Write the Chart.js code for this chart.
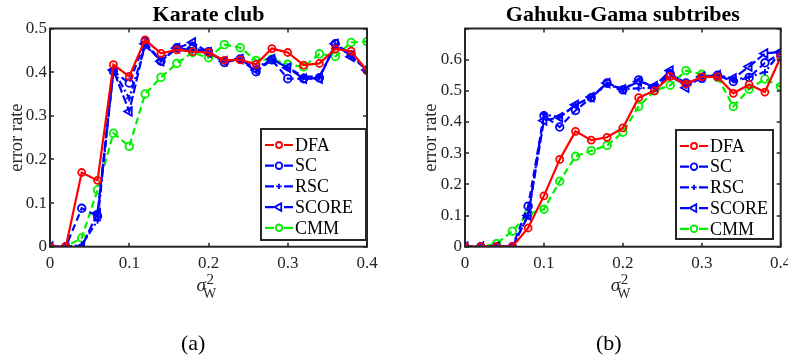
<!DOCTYPE html>
<html>
<head>
<meta charset="utf-8">
<script src="https://cdn.jsdelivr.net/npm/chart.js@4.4.1/dist/chart.umd.min.js"></script>
<style>
  html, body { margin: 0; padding: 0; background: #fff; overflow: hidden; width: 788px; height: 358px; }
  .panel { position: absolute; top: 0; height: 358px; }
  .caption { position: absolute; top: 330px; font: 22px "Liberation Serif", serif; color: #000; }
</style>
</head>
<body>
<div class="panel" id="panelA" style="left:0px; width:394px;"><canvas id="chartA"></canvas></div>
<div class="panel" id="panelB" style="left:394px; width:412px;"><canvas id="chartB"></canvas></div>
<div class="caption" style="left:181px;">(a)</div>
<div class="caption" style="left:596px;">(b)</div>
<script>
// noise variance sigma_W^2
const sigmaW = [0, 0.02, 0.04, 0.06, 0.08, 0.10, 0.12, 0.14, 0.16, 0.18, 0.20,
                0.22, 0.24, 0.26, 0.28, 0.30, 0.32, 0.34, 0.36, 0.38, 0.40];

// Karate club error rates
const karateDFA   = [0, 0, 0.17, 0.152, 0.417, 0.39, 0.474, 0.443, 0.451, 0.447, 0.445,
                     0.427, 0.428, 0.418, 0.454, 0.445, 0.416, 0.42, 0.453, 0.448, 0.403];
const karateSC    = [0, 0, 0.088, 0.07, 0.402, 0.375, 0.47, 0.425, 0.456, 0.455, 0.447,
                     0.422, 0.43, 0.401, 0.428, 0.385, 0.385, 0.387, 0.465, 0.44, 0.405];
const karateRSC   = [0, 0, 0.004, 0.06, 0.405, 0.34, 0.46, 0.43, 0.455, 0.45, 0.445,
                     0.425, 0.43, 0.41, 0.43, 0.41, 0.39, 0.39, 0.46, 0.44, 0.405];
const karateSCORE = [0, 0, 0.0, 0.077, 0.405, 0.31, 0.465, 0.425, 0.455, 0.468, 0.445,
                     0.425, 0.43, 0.405, 0.43, 0.41, 0.385, 0.385, 0.465, 0.435, 0.405];
const karateCMM   = [0, 0, 0.02, 0.13, 0.26, 0.23, 0.35, 0.388, 0.42, 0.445, 0.433,
                     0.463, 0.456, 0.427, 0.43, 0.418, 0.412, 0.442, 0.436, 0.468, 0.47];

// Gahuku-Gama subtribes error rates
const gahukuDFA   = [0, 0, 0, 0, 0.06, 0.163, 0.28, 0.37, 0.342, 0.351, 0.381,
                     0.478, 0.5, 0.546, 0.522, 0.545, 0.545, 0.492, 0.52, 0.496, 0.609];
const gahukuSC    = [0, 0, 0, 0, 0.13, 0.42, 0.384, 0.437, 0.478, 0.525, 0.503,
                     0.535, 0.51, 0.555, 0.525, 0.54, 0.55, 0.53, 0.543, 0.59, 0.62];
const gahukuRSC   = [0, 0, 0, 0, 0.1, 0.425, 0.415, 0.455, 0.48, 0.52, 0.505,
                     0.508, 0.51, 0.545, 0.52, 0.545, 0.545, 0.535, 0.545, 0.56, 0.625];
const gahukuSCORE = [0, 0, 0, 0, 0.1, 0.405, 0.415, 0.455, 0.48, 0.525, 0.505,
                     0.53, 0.515, 0.565, 0.51, 0.545, 0.55, 0.54, 0.578, 0.62, 0.625];
const gahukuCMM   = [0, 0, 0.01, 0.05, 0.105, 0.12, 0.21, 0.29, 0.308, 0.325, 0.367,
                     0.45, 0.5, 0.518, 0.565, 0.553, 0.543, 0.45, 0.505, 0.538, 0.513];

const methodNames = ["DFA", "SC", "RSC", "SCORE", "CMM"];

const RED = "#ff0000", BLUE = "#0000ff", GREEN = "#00f000";
const AXIS = "#262626";
const SERIF = '"Liberation Serif", "Times New Roman", serif';

function styleFor(name) {
    switch (name) {
        case "DFA":   return { borderColor: RED, borderDash: [], pointStyle: "circle", pointRadius: 3.5 };
        case "SC":    return { borderColor: BLUE, borderDash: [7, 4], pointStyle: "circle", pointRadius: 3.8 };
        case "RSC":   return { borderColor: BLUE, borderDash: [7, 3, 2, 3], pointStyle: "cross", pointRadius: 3.2 };
        case "SCORE": return { borderColor: BLUE, borderDash: [9, 3], pointStyle: "triangle", pointRadius: 5, pointRotation: -90 };
        default:      return { borderColor: GREEN, borderDash: [7, 4], pointStyle: "circle", pointRadius: 3.8 };
    }
}

function makeDatasets(series) {
    return series.map((values, i) => {
        let s = styleFor(methodNames[i]);
        return Object.assign({
            label: methodNames[i],
            data: values.map((v, k) => ({ x: sigmaW[k], y: v })),
            borderWidth: 2.2,
            pointBorderColor: s.borderColor,
            pointBackgroundColor: "rgba(255,255,255,0)",
            pointBorderWidth: 1.8,
            pointRotation: 0,
            tension: 0
        }, s);
    });
}

// MATLAB-style decorations: box, inner ticks, title, axis labels, legend
const matlabAxes = {
    id: "matlabAxes",
    afterDraw(chart, args, opts) {
        const ctx = chart.ctx;
        const a = chart.chartArea;
        const xs = chart.scales.x, ys = chart.scales.y;
        ctx.save();

        // inner tick marks
        ctx.strokeStyle = AXIS;
        ctx.lineWidth = 1.5;
        ctx.beginPath();
        xs.ticks.forEach(t => {
            let px = Math.round(xs.getPixelForValue(t.value));
            ctx.moveTo(px, a.bottom); ctx.lineTo(px, a.bottom - 4);
            ctx.moveTo(px, a.top); ctx.lineTo(px, a.top + 4);
        });
        ys.ticks.forEach(t => {
            let py = Math.round(ys.getPixelForValue(t.value));
            ctx.moveTo(a.left, py); ctx.lineTo(a.left + 4, py);
            ctx.moveTo(a.right, py); ctx.lineTo(a.right - 4, py);
        });
        ctx.stroke();

        // box
        ctx.lineWidth = 2;
        ctx.strokeRect(a.left, a.top, a.right - a.left, a.bottom - a.top);

        const cx = (a.left + a.right) / 2;

        // title
        ctx.fillStyle = "#000";
        ctx.font = "bold 22px " + SERIF;
        ctx.textAlign = "center";
        ctx.textBaseline = "alphabetic";
        ctx.fillText(opts.title, cx, 21);

        // y label
        ctx.save();
        ctx.translate(opts.yLabelX, (a.top + a.bottom) / 2);
        ctx.rotate(-Math.PI / 2);
        ctx.fillStyle = AXIS;
        ctx.font = "18.5px " + SERIF;
        ctx.textBaseline = "middle";
        ctx.fillText("error rate", 0, 0);
        ctx.restore();

        // x label sigma_W^2
        ctx.fillStyle = AXIS;
        ctx.textAlign = "left";
        ctx.font = "italic 19px " + SERIF;
        let sx = cx - 12;
        ctx.fillText("\u03c3", sx, 290.5);
        ctx.font = "15px " + SERIF;
        ctx.fillText("2", sx + 10, 284);
        ctx.font = "14px " + SERIF;
        ctx.fillText("W", sx + 6.5, 298);

        // legend
        const lg = opts.legend;
        ctx.fillStyle = "#fff";
        ctx.fillRect(lg.x, lg.y, lg.w, lg.h);
        ctx.strokeStyle = AXIS;
        ctx.lineWidth = 2;
        ctx.strokeRect(lg.x, lg.y, lg.w, lg.h);
        chart.data.datasets.forEach((ds, i) => {
            let y = lg.y + 16 + i * 20.7;
            let x0 = lg.x + 4, x1 = lg.x + 32, xm = (x0 + x1) / 2;
            ctx.strokeStyle = ds.borderColor;
            ctx.lineWidth = 2.2;
            ctx.setLineDash([]);
            ctx.beginPath();
            ctx.moveTo(x0, y); ctx.lineTo(xm - 5, y);
            ctx.moveTo(xm + 5, y); ctx.lineTo(x1, y);
            ctx.stroke();
            ctx.fillStyle = "rgba(255,255,255,0)";
            ctx.lineWidth = 1.8;
            Chart.helpers.drawPoint(ctx, {
                pointStyle: ds.pointStyle,
                radius: ds.pointRadius - 0.5,
                rotation: ds.pointRotation || 0,
                borderWidth: 1.8
            }, xm, y);
            ctx.fillStyle = "#000";
            ctx.font = "18px " + SERIF;
            ctx.textAlign = "left";
            ctx.textBaseline = "middle";
            ctx.fillText(ds.label, x1 + 2, y + 1);
        });

        ctx.restore();
    }
};

function buildChart(canvasId, series, yMax, pad, decor) {
    return new Chart(document.getElementById(canvasId), {
        type: "line",
        data: { datasets: makeDatasets(series) },
        options: {
            animation: false,
            responsive: true,
            maintainAspectRatio: false,
            layout: { padding: pad },
            plugins: {
                legend: { display: false },
                tooltip: { enabled: false },
                title: { display: false },
                matlabAxes: decor
            },
            scales: {
                x: {
                    type: "linear",
                    min: 0, max: 0.4,
                    grid: { display: false, drawTicks: false },
                    border: { display: false },
                    afterFit: s => { s.height = 30; },
                    ticks: {
                        stepSize: 0.1,
                        padding: 7,
                        color: AXIS,
                        font: { family: SERIF, size: 17 },
                        maxRotation: 0,
                        callback: v => String(Math.round(v * 10) / 10)
                    }
                },
                y: {
                    min: 0, max: yMax,
                    grid: { display: false, drawTicks: false },
                    border: { display: false },
                    afterFit: s => { s.width = 40; },
                    ticks: {
                        stepSize: 0.1,
                        padding: 3,
                        color: AXIS,
                        font: { family: SERIF, size: 17 },
                        callback: v => (v > 0.65 ? "" : String(Math.round(v * 10) / 10))
                    }
                }
            }
        },
        plugins: [matlabAxes]
    });
}

buildChart("chartA",
    [karateDFA, karateSC, karateRSC, karateSCORE, karateCMM],
    0.5,
    { left: 10, right: 27, top: 28.5, bottom: 81.3 },
    { title: "Karate club", yLabelX: 17, legend: { x: 261, y: 129, w: 105, h: 111 } });

buildChart("chartB",
    [gahukuDFA, gahukuSC, gahukuRSC, gahukuSCORE, gahukuCMM],
    0.7,
    { left: 31, right: 25.3, top: 28.5, bottom: 81.3 },
    { title: "Gahuku-Gama subtribes", yLabelX: 37.5, legend: { x: 282, y: 130, w: 97, h: 109 } });
</script>
</body>
</html>
